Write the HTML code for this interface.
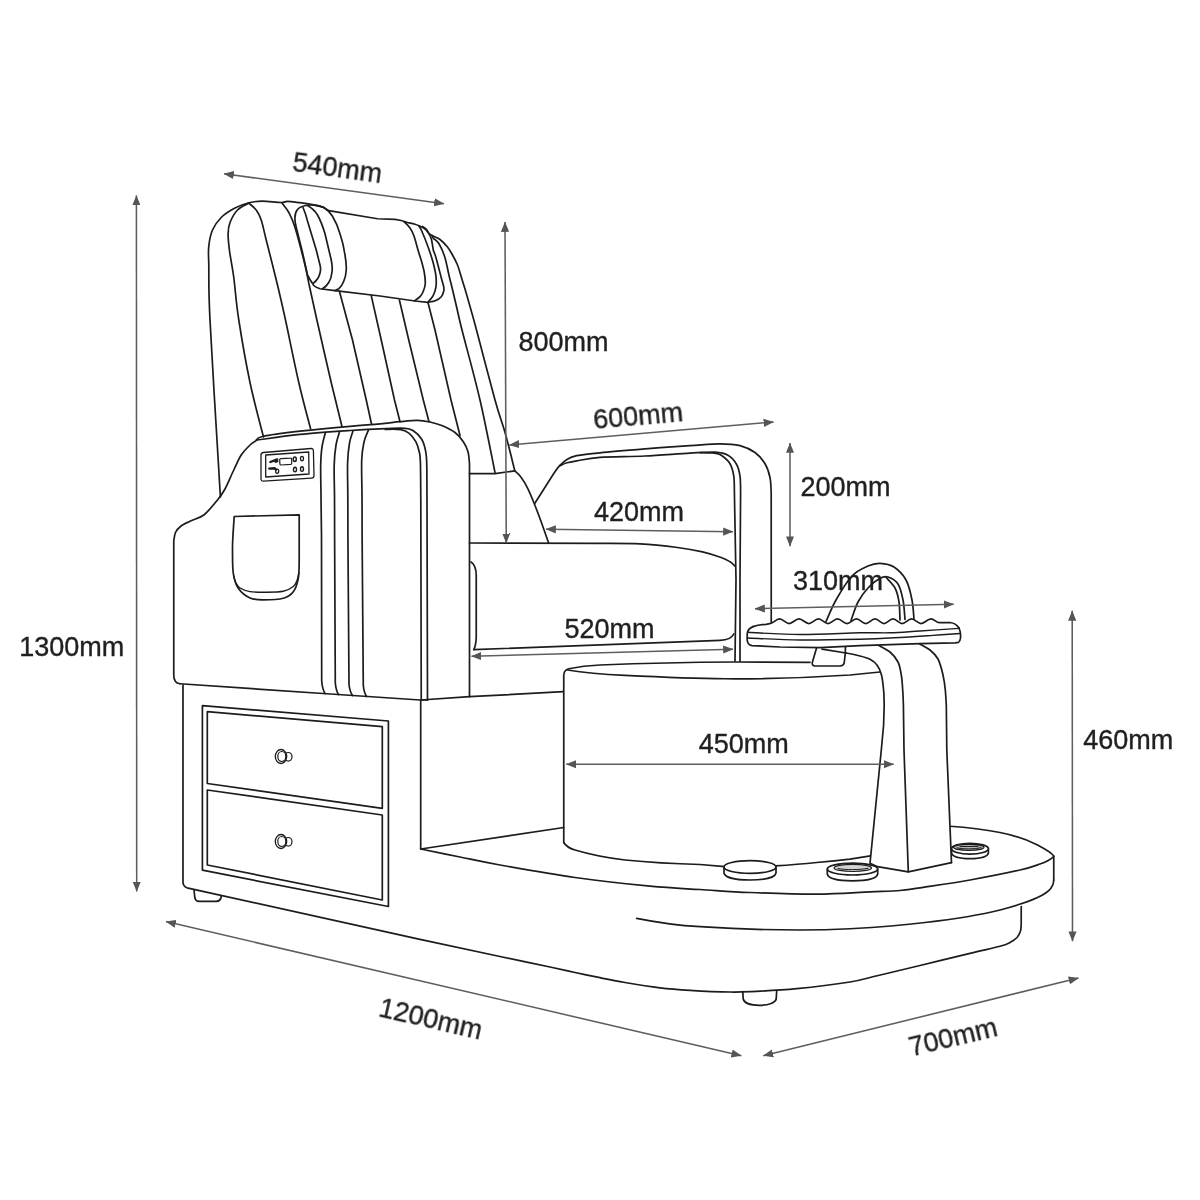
<!DOCTYPE html>
<html lang="en">
<head>
<meta charset="utf-8">
<title>Pedicure chair dimensions</title>
<style>
  html, body { margin: 0; padding: 0; background: #ffffff; }
  body { width: 1200px; height: 1200px; overflow: hidden; }
  svg { display: block; }
  .ln { fill: none; stroke: #1c1c1c; stroke-width: 1.7; stroke-linecap: round; stroke-linejoin: round; }
  .wf { fill: #ffffff; stroke: #1c1c1c; stroke-width: 1.7; stroke-linecap: round; stroke-linejoin: round; }
  .thin { fill: none; stroke: #1c1c1c; stroke-width: 1.2; stroke-linecap: round; stroke-linejoin: round; }
  .dim { fill: none; stroke: #5e5e5e; stroke-width: 1.55; }
  .ah { fill: #555555; stroke: none; }
  .lbl { font-family: "Liberation Sans", sans-serif; font-size: 27px; fill: #1e1e1e; stroke: #1e1e1e; stroke-width: 0.38; }
</style>
</head>
<body>
<svg width="1200" height="1200" viewBox="0 0 1200 1200">
<defs>
  <marker id="a" viewBox="0 0 12 10" refX="11.6" refY="5" markerWidth="10.2" markerHeight="8.8" markerUnits="userSpaceOnUse" orient="auto-start-reverse">
    <path class="ah" d="M0,0.2 L12,5 L0,9.8 Z"/>
  </marker>
</defs>
<rect x="0" y="0" width="1200" height="1200" fill="#ffffff"/>

<!-- ===== BACKREST ===== -->
<g id="backrest">
  <path class="ln" d="M220.5,497.0 C220.2,492.5 220.5,499.5 218.8,470.0 C217.0,440.5 211.7,354.2 210.0,320.0 C208.3,285.8 209.0,277.3 208.8,265.0 C208.5,252.7 208.1,252.1 208.8,246.2 C209.4,240.4 210.4,234.8 212.5,230.0 C214.6,225.2 217.5,221.2 221.2,217.5 C225.0,213.8 230.2,210.6 235.0,208.1 C239.8,205.6 245.4,203.6 250.0,202.5 C254.6,201.4 257.3,201.2 262.5,201.2 C267.7,201.2 277.1,202.5 281.2,202.5 C285.4,202.5 284.4,201.4 287.5,201.4 C290.6,201.4 295.8,202.2 300.0,202.7 C304.2,203.2 308.5,203.8 312.5,204.6 C316.5,205.4 321.9,207.0 323.8,207.5"/>
  <path class="ln" d="M248.8,203.1 C246.9,204.2 240.6,206.8 237.5,210.0 C234.4,213.2 231.6,218.5 230.0,222.5 C228.4,226.5 228.2,229.2 228.1,233.8 C228.0,238.3 228.5,242.7 229.4,250.0 C230.3,257.3 232.2,265.8 233.8,277.5 C235.3,289.2 236.0,302.5 238.8,320.0 C241.5,337.5 245.9,363.0 250.0,382.5 C254.1,402.0 261.2,427.9 263.5,437.0"/>
  <path class="ln" d="M248.8,203.1 C250.0,204.2 254.2,207.2 256.2,210.0 C258.3,212.8 259.6,215.0 261.2,220.0 C262.9,225.0 263.5,229.2 266.2,240.0 C269.0,250.8 274.3,271.7 277.5,285.0 C280.7,298.3 282.0,303.8 285.5,320.0 C289.0,336.2 294.6,364.4 298.8,382.5 C302.9,400.6 308.6,421.0 310.6,428.8"/>
  <path class="ln" d="M282.0,203.1 C283.1,204.7 286.6,208.4 288.8,212.5 C290.9,216.6 292.3,218.8 295.0,227.5 C297.7,236.2 302.6,255.2 305.0,265.0 C307.4,274.8 307.4,276.8 309.4,286.0 C311.4,295.2 313.3,303.9 316.9,320.0 C320.5,336.1 327.1,364.8 331.2,382.5 C335.4,400.2 340.1,419.0 341.9,426.2"/>
  <path class="ln" d="M339.4,291.25 L352.5,340 L366.25,400 L371.5,424"/>
  <path class="ln" d="M371.25,295.6 L381.25,340 L394.5,400 L400,421.7"/>
  <path class="ln" d="M399.4,300 L408.75,340 L423.3,400 L429,421.7"/>
  <path class="ln" d="M428,302.5 L435,330 L451,400 L460,435.5"/>
  <path class="ln" d="M432.3,236.5 C432.5,236.8 432.5,237.5 433.6,238.6 C434.7,239.7 436.9,240.3 438.7,243.3 C440.5,246.3 442.9,251.1 444.7,256.7 C446.5,262.3 448.0,271.4 449.3,276.7 C450.6,282.0 451.0,283.1 452.3,288.7 C453.6,294.2 455.7,303.1 457.3,310.0 C458.9,316.9 458.2,315.0 462.0,330.0 C465.8,345.0 474.5,376.2 480.0,400.0 C485.5,423.8 492.5,460.4 495.0,472.5"/>
  <path class="ln" d="M422.5,226.5 C423.2,227.0 425.4,228.3 426.5,229.5 C427.6,230.7 427.9,232.4 429.0,233.5 C430.1,234.6 431.2,235.0 433.0,236.0 C434.8,237.0 437.6,237.7 440.0,239.5 C442.4,241.3 445.4,244.4 447.5,247.0 C449.6,249.6 450.8,252.0 452.5,255.0 C454.2,258.0 456.1,261.5 457.5,265.0 C458.9,268.5 459.8,272.0 461.0,276.0 C462.2,280.0 463.3,283.3 465.0,289.0 C466.7,294.7 469.1,303.2 471.0,310.0 C472.9,316.8 472.5,315.0 476.5,330.0 C480.5,345.0 490.4,383.3 495.0,400.0 C499.6,416.7 502.0,422.1 504.3,430.0 C506.6,437.9 507.2,440.7 509.0,447.5 C510.8,454.3 513.8,466.9 514.8,470.8 C515.8,471.8 518.6,473.8 520.7,476.7 C522.9,479.6 525.4,483.6 527.7,488.3 C530.0,493.0 532.4,498.9 534.7,504.7 C537.0,510.5 539.4,516.9 541.7,523.3 C544.0,529.7 547.5,539.9 548.7,543.2"/>
  <path class="ln" d="M469.5,473.7 L495,473.7 L514.8,470.8"/>
</g>

<!-- ===== HEADREST ===== -->
<g id="headrest">
  <path class="ln" d="M335,290.6 L320,288.75 C316,287.5 313.5,286 312.5,283.5 C310,280 308.5,277 307.5,275 L302.5,252.5 L296.25,227.5 C294.3,220 294.5,213 297.5,209.5 C300,206.5 305,205.2 310,205 L313.75,205 C318,205.3 321,206.3 323.75,207.5 L328.75,210.6 L377.5,218.75 L395,219.4 C400,220 404,221.2 407.5,222.5 C408.8,222.8 412.9,223.6 415.0,224.2 C417.1,224.8 418.4,225.5 420.0,226.2 C421.6,227.0 423.2,227.5 424.5,228.5 C425.8,229.5 426.9,230.8 428.0,232.5 C429.1,234.2 430.4,235.8 431.3,238.7 C432.2,241.6 432.6,247.0 433.3,250.0 C434.0,253.0 434.4,252.2 435.7,256.7 C437.0,261.1 439.7,271.7 441.0,276.7 C442.3,281.7 443.2,284.3 443.7,286.7 C444.1,289.1 444.1,289.6 443.7,291.3 C443.3,293.0 442.7,295.1 441.3,296.7 C439.9,298.3 437.5,299.8 435.3,300.7 C433.1,301.6 429.2,302.0 428.0,302.3 L415,301 L380,296 L335,290.6"/>
  <path class="ln" d="M303,207.5 C305,212 306.5,217 307.5,221 L316.25,250 L320,265 C320.8,268 320.6,271 320,273 C319,277.5 317,280.5 313.5,283"/>
  <path class="ln" d="M307.5,205.6 C312,208 315,211 317.5,215 C321,221 323,227 325,233.75 L331.25,260 C332.3,265 332.5,269 331.9,272.5 C331.5,277 330.5,280 328.75,282.5 C327,285.5 325,287.3 322.5,288.7"/>
  <path class="ln" d="M313.75,205 C318,205 321,206 323.75,207.5 C327,209.5 330,212.5 332.5,216.25 C336,222 338,227 340,233.75 C342.5,241 344,248 345,255 C346,261 346.5,266 346.25,270 C346,275 345,278.5 343.75,281.25 C342.5,284.5 341,287 338.75,288.75 L335,290.6"/>
  <path class="ln" d="M404.0,221.6 C405.0,222.7 408.3,225.6 410.0,228.0 C411.7,230.4 412.7,232.3 414.0,236.0 C415.3,239.7 416.7,245.5 418.0,250.0 C419.3,254.5 421.0,259.3 422.0,263.0 C423.0,266.7 423.6,268.6 424.2,272.0 C424.8,275.4 425.4,280.1 425.3,283.3 C425.2,286.5 424.2,289.1 423.3,291.3 C422.4,293.5 421.5,295.1 420.0,296.7 C418.5,298.3 415.4,300.1 414.5,300.8"/>
  <path class="ln" d="M419.0,226.2 C419.4,226.8 419.8,226.6 421.3,230.0 C422.8,233.4 426.0,241.1 428.0,246.7 C430.0,252.2 432.0,258.3 433.3,263.3 C434.6,268.3 435.6,272.8 436.0,276.7 C436.4,280.6 436.4,283.6 436.0,286.7 C435.6,289.8 434.6,292.7 433.3,295.3 C432.0,297.9 428.9,301.1 428.0,302.3"/>
</g>

<!-- ===== SEAT ===== -->
<g id="seat">
  <path class="ln" d="M469.5,543 L600,543.4 C606.7,543.5 627.1,543.2 640.0,543.9 C652.9,544.6 667.1,546.2 677.5,547.5 C687.9,548.8 695.2,550.2 702.5,551.9 C709.8,553.6 716.7,555.9 721.2,557.5 C725.8,559.1 727.7,560.4 730.0,561.8 C732.3,563.2 734.2,565.3 735.0,566.0"/>
  <path class="ln" d="M471,562 Q476,565 476.25,575 L476.25,637 Q476,645.5 473.75,649.6"/>
  <path class="ln" d="M473.75,649.6 L720,640.3 Q731,640 733.75,634"/>
  <path class="ln" d="M420.7,700 L469.5,696.7 L563.3,691.7"/>
</g>

<!-- ===== LEFT ARMREST ===== -->
<g id="armleft">
  <path class="ln" d="M180,683.75 Q173.75,683 173.75,675 L173.75,541 C174.0,539.6 174.3,535.0 175.5,532.5 C176.7,530.0 178.6,527.9 181.0,526.0 C183.4,524.1 186.2,523.1 190.0,521.2 C193.8,519.4 199.2,518.5 203.8,515.0 C208.3,511.5 214.0,504.3 217.5,500.0 C221.0,495.7 222.3,494.0 225.0,489.0 C227.7,484.0 231.0,475.7 233.8,470.0 C236.5,464.3 238.5,459.2 241.2,455.0 C244.0,450.8 247.5,447.4 250.0,445.0 C252.5,442.6 254.2,442.0 256.2,440.6 C258.3,439.2 255.2,438.1 262.5,436.5 C269.8,434.9 285.4,432.9 300.0,431.2 C314.6,429.6 336.7,427.5 350.0,426.3 C363.3,425.1 371.7,424.6 380.0,423.8 C388.3,423.0 393.8,422.3 400.0,421.7 C406.2,421.1 412.5,420.3 417.5,420.4 C422.5,420.4 425.8,421.1 430.0,422.0 C434.2,422.9 438.3,424.1 442.5,425.8 C446.7,427.6 451.5,429.9 455.0,432.5 C458.5,435.1 461.1,438.5 463.3,441.7 C465.5,444.9 467.0,448.1 468.0,451.7 C469.0,455.3 469.2,461.4 469.5,463.3 L469.5,696.7"/>
  <path class="ln" d="M256.2,440.2 C263.5,439.2 284.4,436.0 300.0,434.4 C315.6,432.8 336.7,431.4 350.0,430.5 C363.3,429.6 370.8,429.1 380.0,428.8 C389.2,428.4 399.4,428.0 405.0,428.3 C410.6,428.6 410.5,429.0 413.3,430.8 C416.1,432.6 419.7,436.0 421.7,439.2 C423.7,442.4 424.6,446.1 425.4,450.0 C426.2,453.9 426.4,454.2 426.7,462.5 C427.0,470.8 426.9,493.8 427.0,500.0 L427.5,700"/>
  <path class="ln" d="M385.0,429.3 C387.6,429.4 396.8,428.9 400.8,429.6 C404.8,430.3 406.7,431.3 409.2,433.3 C411.7,435.3 414.1,438.6 415.8,441.7 C417.5,444.8 418.4,448.2 419.2,451.7 C420.0,455.2 420.1,454.4 420.4,462.5 C420.7,470.6 420.7,493.8 420.8,500.0 L421.25,700"/>
  <path class="ln" d="M180,683.75 L323,693.5 L420,700 L427.5,700"/>
  <path class="ln" d="M325.3,433.0 C324.8,435.3 322.8,441.7 322.0,447.0 C321.2,452.3 320.9,457.0 320.7,465.0 C320.5,473.0 320.9,483.3 321.0,495.0 C321.1,506.7 321.4,528.3 321.5,535.0 L321.7,681.0 Q322.3,689.0 325.0,693.5"/>
  <path class="ln" d="M339.5,432.0 C338.9,434.2 336.9,439.5 336.0,445.0 C335.1,450.5 334.4,456.7 334.2,465.0 C333.9,473.3 334.4,483.3 334.5,495.0 C334.6,506.7 334.6,528.3 334.6,535.0 L335.3,683.0 Q336.0,690.5 338.5,694.5"/>
  <path class="ln" d="M353.0,431.0 C352.4,433.0 350.4,437.7 349.5,443.0 C348.6,448.3 347.9,454.3 347.6,463.0 C347.3,471.7 347.8,483.0 347.8,495.0 C347.9,507.0 347.9,528.3 347.9,535.0 L349.0,684.5 Q349.8,691.5 352.5,695.5"/>
  <path class="ln" d="M368.5,430.0 C367.8,432.0 365.1,437.0 364.0,442.0 C362.9,447.0 362.0,451.2 361.7,460.0 C361.4,468.8 361.9,482.5 362.0,495.0 C362.1,507.5 362.1,528.3 362.1,535.0 L363.3,685.5 Q364.0,692.5 366.5,696.5"/>
  <!-- control panel -->
  <path class="thin" d="M263.5,452.5 L310.8,448.5 Q313.3,448.3 313.4,450.8 L314,475.5 Q314,478 311.5,478.2 L263.6,481.1 Q261,481.3 261,478.8 L261,455 Q261,452.7 263.5,452.5 Z" style="stroke-width:1.3"/>
  <path class="thin" d="M265.7,455 L308.7,452 L309,474 L265.7,477 Z" style="stroke-width:1.3"/>
  <path class="thin" d="M280.7,458.7 L290.7,458.1 Q291.7,458 291.7,459 L291.7,463.3 Q291.7,464.3 290.7,464.4 L281,465 Q280,465 279.9,464 L279.7,459.7 Q279.7,458.7 280.7,458.7 Z" style="stroke-width:1.2"/>
  <ellipse class="thin" cx="294.8" cy="459.2" rx="1.5" ry="2.2" style="stroke-width:1.5"/>
  <ellipse class="thin" cx="302" cy="458.6" rx="1.5" ry="2.2" style="stroke-width:1.3"/>
  <ellipse class="thin" cx="295" cy="469.6" rx="1.5" ry="2.3" style="stroke-width:1.4"/>
  <ellipse class="thin" cx="302" cy="469.1" rx="1.5" ry="2.3" style="stroke-width:1.4"/>
  <path class="thin" d="M270.3,462 L274,460.6 M275,460 L277.3,459.3 M275.5,461.8 L277.5,461.3" style="stroke-width:2.2"/>
  <path class="thin" d="M269.3,468.6 L274.5,468.2 L276,469.6" style="stroke-width:2.4"/>
  <ellipse class="thin" cx="277.2" cy="471.2" rx="1.5" ry="2.1" style="stroke-width:1.3"/>
  <!-- pocket -->
  <path class="ln" d="M234.2,516.5 C234.0,519.6 233.3,529.4 233.0,535.0 C232.7,540.6 232.4,543.6 232.5,550.0 C232.6,556.4 232.3,566.9 233.3,573.3 C234.3,579.7 235.5,584.2 238.3,588.3 C241.1,592.4 245.8,596.1 250.0,598.0 C254.2,599.9 257.8,599.8 263.3,599.8 C268.9,599.8 278.3,599.6 283.3,598.2 C288.3,596.9 290.8,595.0 293.3,591.7 C295.8,588.4 297.3,583.6 298.3,578.3 C299.3,573.0 299.1,563.0 299.2,560.0 L299.2,514.8 L234.2,516.5"/>
  <path class="thin" d="M233.6,576.0 C234.0,577.2 234.9,581.0 236.0,583.0 C237.1,585.0 237.7,586.6 240.0,588.0 C242.3,589.4 246.1,590.9 250.0,591.6 C253.9,592.3 257.8,592.3 263.3,592.3 C268.9,592.2 278.3,592.3 283.3,591.3 C288.3,590.3 291.0,588.3 293.3,586.5 C295.6,584.7 296.1,582.8 297.0,580.5 C297.9,578.2 298.5,574.2 298.8,573.0" style="stroke-width:1.4"/>
</g>

<!-- ===== RIGHT ARMREST ===== -->
<g id="armright">
  <path class="ln" d="M534.7,503.5 L553.3,474.3 C554.3,472.9 556.9,468.7 559.2,466.2 C561.5,463.7 564.4,460.9 567.3,459.2 C570.2,457.4 571.2,456.8 576.7,455.7 C582.2,454.6 588.6,453.9 600.0,452.8 C611.4,451.6 630.0,450.1 645.0,448.9 C660.0,447.7 677.5,446.5 690.0,445.6 C702.5,444.8 711.7,443.8 720.0,443.8 C728.3,443.8 734.2,444.2 740.0,445.6 C745.8,447.1 750.8,449.5 755.0,452.5 C759.2,455.5 762.5,459.6 765.0,463.8 C767.5,467.9 769.0,472.7 770.0,477.5 C771.0,482.3 771.0,490.0 771.2,492.5 L771.25,622.5"/>
  <path class="ln" d="M560.0,465.6 C561.2,465.1 564.2,463.6 567.0,462.8 C569.8,462.0 571.2,461.8 576.7,460.9 C582.2,460.0 588.6,458.2 600.0,457.4 C611.4,456.6 630.0,456.7 645.0,456.0 C660.0,455.3 678.3,453.7 690.0,453.1 C701.7,452.5 708.8,451.9 715.0,452.2 C721.2,452.6 724.0,453.1 727.5,455.0 C731.0,456.9 734.2,460.2 736.2,463.8 C738.3,467.3 739.3,471.5 740.0,476.2 C740.7,481.0 740.5,489.8 740.6,492.5 L740,580 L740,661"/>
  <path class="ln" d="M700.0,452.6 C702.0,452.7 708.7,452.7 712.0,453.0 C715.3,453.3 717.0,452.8 720.0,454.6 C723.0,456.4 727.7,460.1 730.0,463.8 C732.3,467.4 733.0,471.5 733.8,476.2 C734.5,481.0 734.3,489.8 734.4,492.5 L736,580 L735,661"/>
</g>

<!-- ===== BASE / CABINET / PLATFORM ===== -->
<g id="base">
  <path class="ln" d="M183,685 L183,882.5 Q183.2,886 187,887.8 L420,939.3 L500,956.5 C508.3,958.2 537.5,964.3 550.0,967.0 C562.5,969.7 566.7,970.7 575.0,972.5 C583.3,974.3 591.7,976.0 600.0,977.7 C608.3,979.4 615.0,980.8 625.0,982.5 C635.0,984.2 649.2,986.5 660.0,987.8 C670.8,989.1 678.3,989.6 690.0,990.3 C701.7,991.0 718.9,991.8 730.0,992.0 C741.1,992.2 745.6,991.8 756.7,991.3 C767.8,990.8 781.2,990.2 796.7,988.7 C812.2,987.2 836.4,984.2 850.0,982.0 C863.6,979.8 866.6,978.2 878.3,975.5 C890.0,972.8 904.7,969.2 920.0,965.5 C935.3,961.8 956.7,956.5 970.0,953.3 C983.3,950.1 993.3,948.1 1000.0,946.3 C1006.7,944.5 1007.2,944.0 1010.0,942.5 C1012.8,941.0 1015.2,939.4 1017.0,937.5 C1018.8,935.6 1019.8,933.2 1020.5,931.0 C1021.2,928.8 1021.1,925.2 1021.2,924.0 L1021.25,906.5"/>
  <path class="ln" d="M420.7,700 L420.7,849"/>
  <path class="ln" d="M420.7,849 L563.75,827.5"/>
  <path class="ln" d="M420.7,849.0 C427.2,850.3 446.8,854.3 460.0,857.0 C473.2,859.7 480.8,861.6 500.0,865.0 C519.2,868.4 550.0,874.0 575.0,877.5 C600.0,881.0 629.2,884.2 650.0,886.2 C670.8,888.2 683.3,888.5 700.0,889.5 C716.7,890.5 730.5,891.7 750.0,892.5 C769.5,893.3 796.7,894.3 816.7,894.2 C836.7,894.1 856.1,892.5 870.0,891.9 C883.9,891.3 891.7,891.2 900.0,890.5 C908.3,889.8 908.3,889.5 920.0,887.8 C931.7,886.0 953.3,883.0 970.0,880.0 C986.7,877.0 1008.3,872.7 1020.0,870.0 C1031.7,867.3 1035.2,865.7 1040.0,864.0 C1044.8,862.3 1046.7,861.2 1049.0,860.0 C1051.3,858.8 1053.0,857.1 1053.8,856.5"/>
  <path class="ln" d="M950,826.25 C970,827.5 985,829.5 1000,832.5 C1015,835.5 1028,840 1037.5,845 C1046,849.5 1052,853 1053.75,856 L1053.75,880"/>
  <path class="ln" d="M636.7,918.3 C660,923 680,925.5 700,926.7 C735,929 770,930 800,930 C820,930 835,929.5 850,928.75 C880,927 900,925.5 925,922.5 C955,919 980,915 1000,910 C1015,906 1028,902 1037.5,897.5 C1046,893.5 1053.5,889 1053.75,880"/>
  <!-- drawers -->
  <path class="ln" d="M202.4,705.7 L388.4,721 L388.4,906.5 L202.4,870.2 Z"/>
  <path class="ln" d="M207.3,711.7 L382.3,726.7 L382.3,808.3 L207.3,783.5 Z"/>
  <path class="ln" d="M207.3,790 L382.3,815 L382.3,900 L207.3,865 Z"/>
  <ellipse class="thin" cx="288.3" cy="756.8" rx="3.7" ry="4.3"/>
  <ellipse class="wf" cx="281" cy="756.5" rx="5.7" ry="7" style="stroke-width:1.3"/>
  <ellipse class="thin" cx="281.8" cy="756.5" rx="4" ry="5"/>
  <ellipse class="thin" cx="288.3" cy="841.8" rx="3.7" ry="4.3"/>
  <ellipse class="wf" cx="281" cy="841.5" rx="5.7" ry="7" style="stroke-width:1.3"/>
  <ellipse class="thin" cx="281.8" cy="841.5" rx="4" ry="5"/>
  <!-- feet -->
  <path class="ln" d="M194,890 L194.8,897.5 Q195.6,901.3 199,901.4 L216.5,901.4 Q220.3,901 220.9,898 L221.3,896"/>
  <path class="ln" d="M742.8,991.6 L743.2,999 C744,1002.5 750,1005.2 759.5,1005.3 C769,1005.2 775.5,1002.5 776.2,999 L776.7,990.8"/>
</g>

<!-- ===== TUB ===== -->
<g id="tub">
  <path class="ln" d="M563.75,842.5 L563.75,675 Q564,670 568.75,668.75 C580,666.5 590,665.5 600,665 C650,663 700,662.2 735,662 L810,662.3"/>
  <path class="ln" d="M567.5,670 C585,673 605,674.5 625,675.3 C660,677 700,678.5 725,678.75 C770,679 820,677 850,675 L880,672"/>
  <path class="ln" d="M563.75,842.5 C566,846.5 570,848.5 575,850 C590,854.5 608,858 625,860 C655,863 680,864 700,864.5 L725,866.6"/>
  <path class="ln" d="M775,865.8 C790,865 805,863.8 816.7,862.5 C830,861.3 840,860.3 850,859.2 L870.5,855.8"/>
  <!-- knobs -->
  <path class="wf" d="M724,867 L724,873 C725,878 737,880 750,880 C763,880 775,878 776,873 L776,867"/>
  <ellipse class="wf" cx="750" cy="867" rx="26" ry="6.3"/>
  <path class="wf" d="M827.3,869 L827.3,874 C828.3,879 840,880.8 852.5,880.8 C865,880.8 876.7,879 877.7,874 L877.7,869"/>
  <ellipse class="wf" cx="852.5" cy="869.1" rx="25.2" ry="5.9"/>
  <ellipse class="thin" cx="852.8" cy="867.9" rx="18.7" ry="3.6" style="fill:#d4d4d4"/>
  <path class="thin" d="M838,868.5 C845,870 860,870 868,868.3" style="stroke-width:1"/>
  <path class="wf" d="M951.6,848.7 L951.6,853 C952.6,857 961,858.6 970,858.6 C979,858.6 987.4,857 988.4,853 L988.4,848.7"/>
  <ellipse class="wf" cx="970" cy="848.7" rx="18.4" ry="5.4"/>
  <ellipse class="thin" cx="968.8" cy="847.3" rx="15.2" ry="3" style="fill:#b9b9b9"/>
  <path class="thin" d="M957,847.8 C962,849.3 975,849.3 981,847.6 M960,846.6 L978,846.4" style="stroke-width:1"/>
</g>

<!-- ===== PEDESTAL / TRAY / FAUCET ===== -->
<g id="tray">
  <!-- pedestal -->
  <path d="M822.0,649.2 C826.0,649.8 839.7,651.9 846.0,653.0 C852.3,654.1 856.0,655.0 860.0,656.0 C864.0,657.0 867.2,657.8 870.0,659.3 C872.8,660.8 875.1,662.4 877.0,665.0 C878.9,667.6 880.4,670.8 881.5,675.0 C882.6,679.2 883.1,685.0 883.6,690.0 C884.1,695.0 884.1,702.5 884.2,705.0 L883.6,725 L881.3,750 L870,863.3 L877.5,866.7 L908.3,871.9 L951.5,862.7 L946.8,750 L946.3,705.0 L945.3,690.0 L943.0,675.0 L938.0,659.0 L930.0,650.0 L918.0,643.0 L822,642 Z" fill="#ffffff" stroke="none"/>
  <path class="ln" d="M822.0,649.2 C826.0,649.8 839.7,651.9 846.0,653.0 C852.3,654.1 856.0,655.0 860.0,656.0 C864.0,657.0 867.2,657.8 870.0,659.3 C872.8,660.8 875.1,662.4 877.0,665.0 C878.9,667.6 880.4,670.8 881.5,675.0 C882.6,679.2 883.1,685.0 883.6,690.0 C884.1,695.0 884.1,702.5 884.2,705.0 L883.6,725 L881.3,750 L870,863.3 L877.5,866.7 L908.3,871.9 L951.5,862.7"/>
  <path class="ln" d="M878.0,645.0 C880.0,646.2 886.7,649.2 890.0,652.0 C893.3,654.8 896.1,658.2 898.0,662.0 C899.9,665.8 900.5,670.3 901.3,675.0 C902.1,679.7 902.4,685.0 902.7,690.0 C903.1,695.0 903.3,702.5 903.4,705.0 L904,750 L908.3,871.9"/>
  <path class="ln" d="M918.0,643.0 C920.0,644.2 926.7,647.3 930.0,650.0 C933.3,652.7 935.8,654.8 938.0,659.0 C940.2,663.2 941.8,669.8 943.0,675.0 C944.2,680.2 944.8,685.0 945.3,690.0 C945.8,695.0 946.1,702.5 946.3,705.0 L946.8,750 L951.5,862.7"/>
  <!-- spout under tray -->
  <path class="wf" d="M818,643 L812.3,662.5 Q811.7,665.3 814.5,665.8 L840,666 Q843.5,665.8 844.2,663 L845.3,653 L845.5,643 Z"/>
  <path class="ln" d="M822,649.2 L846,653"/>
  <!-- faucet -->
  <path class="ln" d="M826.0,621.5 C827.7,617.9 831.7,607.6 836.0,600.0 C840.3,592.4 846.7,581.7 852.0,576.0 C857.3,570.3 863.3,568.1 868.0,566.0 C872.7,563.9 875.7,563.1 880.0,563.3 C884.3,563.5 889.7,564.2 894.0,567.0 C898.3,569.8 903.0,574.5 906.0,580.0 C909.0,585.5 910.7,593.4 912.0,600.0 C913.3,606.6 913.7,616.2 914.0,619.5"/>
  <path class="ln" d="M851.0,620.5 C852.2,617.4 855.2,607.4 858.0,602.0 C860.8,596.6 864.3,592.0 868.0,588.0 C871.7,584.0 876.7,580.1 880.0,578.3 C883.3,576.5 885.0,576.0 888.0,577.0 C891.0,578.0 895.5,580.2 898.0,584.0 C900.5,587.8 901.8,594.1 903.0,600.0 C904.2,605.9 904.7,616.2 905.0,619.5"/>
  <path class="ln" d="M886.0,577.3 C887.5,579.1 892.8,583.9 895.0,588.0 C897.2,592.1 898.2,596.7 899.0,602.0 C899.8,607.3 899.8,617.0 900.0,620.0"/>
  <!-- tray -->
  <path d="M753,626.6 C757,625.2 762,624.6 766,624.3 L769.8,623.6 C773.2,623.6 775.8,618.9 779.5,618.9 C783.2,618.9 785.8,623.6 789.2,623.6 C792.7,623.6 795.3,618.9 799.0,618.9 C802.7,618.9 805.3,623.6 808.8,623.6 C812.2,623.6 814.8,618.9 818.5,618.9 C822.1,618.9 824.7,623.6 828.0,623.6 C831.3,623.6 833.9,618.9 837.5,618.9 C841.1,618.9 843.7,623.6 847.0,623.6 C850.3,623.6 852.9,618.9 856.5,618.9 C860.0,618.9 862.5,623.6 865.8,623.6 C869.0,623.6 871.5,618.9 875.0,618.9 C878.4,618.9 880.9,623.6 884.0,623.6 C887.1,623.6 889.6,618.9 893.0,618.9 C896.5,618.9 899.0,623.6 902.2,623.6 C905.5,623.6 908.0,618.9 911.5,618.9 C915.2,618.9 917.8,623.6 921.2,623.6 C924.7,623.6 927.3,618.9 931.0,618.9 C934.4,618.9 936.9,623.6 940.0,622.6 L950,622.5 C954,623 957,625 959,628  C960.3,631 960.8,635 960.5,638 C960.2,640.5 959.5,641.8 958.5,642.3 L955,642.9 L920,643.7 L890,644.7 L860,645.6 L820,647.6 L780,647 L752,645.6 C748.5,645 747.3,643 747.2,640 L747.2,634 C747.3,630.5 749.5,628 753,626.6 Z" fill="#ffffff" stroke="none"/>
  <path class="ln" d="M753,626.6 C757,625.2 762,624.6 766,624.3 L769.8,623.6 C773.2,623.6 775.8,618.9 779.5,618.9 C783.2,618.9 785.8,623.6 789.2,623.6 C792.7,623.6 795.3,618.9 799.0,618.9 C802.7,618.9 805.3,623.6 808.8,623.6 C812.2,623.6 814.8,618.9 818.5,618.9 C822.1,618.9 824.7,623.6 828.0,623.6 C831.3,623.6 833.9,618.9 837.5,618.9 C841.1,618.9 843.7,623.6 847.0,623.6 C850.3,623.6 852.9,618.9 856.5,618.9 C860.0,618.9 862.5,623.6 865.8,623.6 C869.0,623.6 871.5,618.9 875.0,618.9 C878.4,618.9 880.9,623.6 884.0,623.6 C887.1,623.6 889.6,618.9 893.0,618.9 C896.5,618.9 899.0,623.6 902.2,623.6 C905.5,623.6 908.0,618.9 911.5,618.9 C915.2,618.9 917.8,623.6 921.2,623.6 C924.7,623.6 927.3,618.9 931.0,618.9 C934.4,618.9 936.9,623.6 940.0,622.6 L950,622.5 C954,623 957,625 959,628"/>
  <path class="ln" d="M959,628 C960.3,631 960.8,635 960.5,638 C960.2,640.5 959.5,641.8 958.5,642.3 L955,642.9 L920,643.7 L890,644.7 L860,645.6 L820,647.6 L780,647 L752,645.6 C748.5,645 747.3,643 747.2,640 L747.2,634 C747.3,630.5 749.5,628 753,626.6"/>
  <path class="thin" d="M747.6,632.3 C756.3,632.7 781.3,634.4 800.0,634.5 C818.7,634.6 845.0,633.1 860.0,632.8 C875.0,632.5 880.0,633.1 890.0,632.8 C900.0,632.5 908.5,631.7 920.0,631.0 C931.5,630.3 952.5,628.8 959.0,628.4" style="stroke-width:1.4"/>
  <path class="thin" d="M747.4,638.0 C756.2,638.3 781.2,639.8 800.0,640.0 C818.8,640.2 843.3,639.6 860.0,639.2 C876.7,638.8 888.3,638.1 900.0,637.5 C911.7,636.9 920.0,636.3 930.0,635.6 C940.0,634.9 955.2,633.9 960.3,633.5" style="stroke-width:1.4"/>
</g>


<!-- ===== DIMENSIONS ===== -->
<g id="dims">
  <path class="dim" marker-start="url(#a)" marker-end="url(#a)" d="M136.4,195.5 L136.7,891.5"/>
  <path class="dim" marker-start="url(#a)" marker-end="url(#a)" d="M224,173.75 L444,203.7"/>
  <path class="dim" marker-start="url(#a)" marker-end="url(#a)" d="M505,222 L506.25,543"/>
  <path class="dim" marker-start="url(#a)" marker-end="url(#a)" d="M509.3,445 L773.5,422"/>
  <path class="dim" marker-start="url(#a)" marker-end="url(#a)" d="M546,529.2 L733,531.7"/>
  <path class="dim" marker-start="url(#a)" marker-end="url(#a)" d="M471.5,656.25 L733,649.25"/>
  <path class="dim" marker-start="url(#a)" marker-end="url(#a)" d="M790,443 L790,546.25"/>
  <path class="dim" marker-start="url(#a)" marker-end="url(#a)" d="M755,608.75 L953.75,604.25"/>
  <path class="dim" marker-start="url(#a)" marker-end="url(#a)" d="M566.25,764.25 L893.75,764.25"/>
  <path class="dim" marker-start="url(#a)" marker-end="url(#a)" d="M1072.2,610.8 L1072.5,941.25"/>
  <path class="dim" marker-start="url(#a)" marker-end="url(#a)" d="M166,921.6 L741.3,1055.7"/>
  <path class="dim" marker-start="url(#a)" marker-end="url(#a)" d="M763.3,1055.7 L1078.5,978"/>
</g>
<g id="labels" opacity="0.99">
  <text class="lbl" x="71.8" y="656.3" text-anchor="middle">1300mm</text>
  <text class="lbl" x="337.5" y="177" text-anchor="middle" transform="rotate(7.8 337.5 167.5)">540mm</text>
  <text class="lbl" x="563.5" y="351.2" text-anchor="middle">800mm</text>
  <text class="lbl" x="638" y="424.5" text-anchor="middle" transform="rotate(-5.1 638 415)">600mm</text>
  <text class="lbl" x="639" y="520.7" text-anchor="middle">420mm</text>
  <text class="lbl" x="609.5" y="637.75" text-anchor="middle">520mm</text>
  <text class="lbl" x="845.5" y="496" text-anchor="middle">200mm</text>
  <text class="lbl" x="838" y="590" text-anchor="middle">310mm</text>
  <text class="lbl" x="743.75" y="752.5" text-anchor="middle">450mm</text>
  <text class="lbl" x="1128.3" y="748.8" text-anchor="middle">460mm</text>
  <text class="lbl" x="431" y="1027.5" text-anchor="middle" transform="rotate(13 431 1018)">1200mm</text>
  <text class="lbl" x="953.3" y="1046" text-anchor="middle" transform="rotate(-13.5 954 1038)">700mm</text>
</g>
</svg>
</body>
</html>
